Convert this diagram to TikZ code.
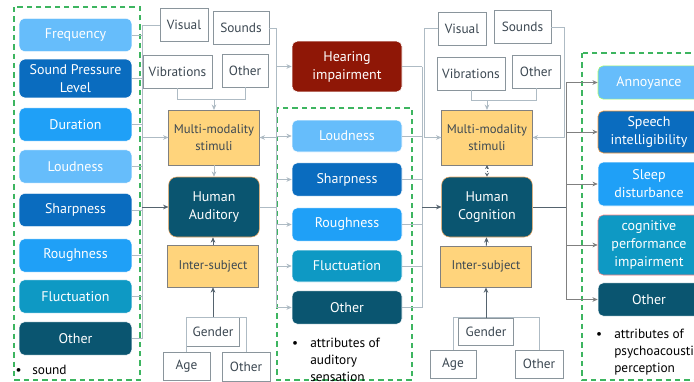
\documentclass[tikz,border=0pt]{standalone}
\usepackage{fontspec}
\setmainfont{PT Sans}
\usetikzlibrary{positioning,arrows.meta}

\definecolor{lblue}{HTML}{66BDFB}
\definecolor{dblue}{HTML}{0A6CBF}
\definecolor{mblue}{HTML}{1FA0F7}
\definecolor{tealc}{HTML}{0E99C4}
\definecolor{dteal}{HTML}{0A5570}
\definecolor{hred}{HTML}{8F1706}
\definecolor{ystim}{HTML}{FFD47C}
\definecolor{dgreen}{HTML}{3DB560}
\definecolor{lline}{HTML}{AEBBC4}
\definecolor{dline}{HTML}{55636E}
\definecolor{gtext}{HTML}{3C4852}
\definecolor{cuebd}{HTML}{8A959C}

\begin{document}
\begin{tikzpicture}[x=0.75pt, y=-0.75pt]

% Styles
\tikzset{
    attr/.style={rectangle, rounded corners=4pt, draw=white, fill=#1, text=white, minimum width=84.5pt,
        minimum height=25pt, inner sep=1pt, align=center, font=\fontsize{10.5}{13.5}\selectfont},
    cue/.style={rectangle, draw=cuebd, fill=white, text=gtext, inner sep=0pt, minimum height=25pt,
        font=\fontsize{10}{12}\selectfont},
    stim/.style={rectangle, draw=gray, fill=ystim, text=gtext, minimum width=68pt, minimum height=41pt,
        align=center, inner sep=1pt, font=\fontsize{9.5}{13}\selectfont},
    hub/.style={rectangle, rounded corners=6pt, draw=orange!60!brown!70, fill=dteal, text=white,
        minimum width=68pt, minimum height=45pt, align=center, font=\fontsize{10.5}{13.5}\selectfont},
    frame/.style={draw=dgreen, thick, dash pattern=on 4pt off 3pt},
    note/.style={anchor=north west, align=left, inner sep=0pt, text=black, font=\fontsize{10}{12.75}\selectfont},
    conn/.style={draw=lline, line width=0.6pt, -{Stealth[length=4pt,width=3.5pt]}},
    line/.style={draw=lline, line width=0.6pt},
    darkconn/.style={draw=dline, line width=0.7pt, -{Stealth[length=4pt,width=3.5pt]}}
}

\useasboundingbox (0,0) rectangle (694,382);

% Dashed groups
\draw[frame] (14,7) rectangle (140,380);
\draw[frame] (277,108) rectangle (412,380);
\draw[frame] (582,53) rectangle (720,380);

% Sound attributes
\node[attr=lblue] (freq) at (75.5,35) {Frequency};
\node[attr=dblue, minimum height=29pt] (spl) at (75.5,78.5) {Sound Pressure\\Level};
\node[attr=mblue] (dur) at (75.5,124.5) {Duration};
\node[attr=lblue] (loud1) at (75.5,166.5) {Loudness};
\node[attr=dblue] (sharp1) at (75.5,210) {Sharpness};
\node[attr=mblue] (rough1) at (75.5,255.5) {Roughness};
\node[attr=tealc] (fluct1) at (75.5,296.5) {Fluctuation};
\node[attr=dteal] (oth1) at (75.5,338.5) {Other};
\node[note] (snote) at (32,365) {\makebox[0pt][r]{\textbullet\hspace{8pt}}sound};

% First stage
\node[cue, minimum width=36pt] (vis1) at (184,25) {Visual};
\node[cue, minimum width=42pt] (snd1) at (241,28) {Sounds};
\node[cue, minimum width=52pt] (vib1) at (177.5,71.5) {Vibrations};
\node[cue, minimum width=34.5pt] (otc1) at (245,70.5) {Other};
\node[stim] (mm1) at (214,137.5) {Multi-modality\\stimuli};
\node[hub] (haud) at (214,207) {Human\\Auditory};
\node[stim, minimum height=31.5pt] (is1) at (213,266) {Inter-subject};
\node[cue, minimum width=40pt, minimum height=21.5pt] (gen1) at (213,331.5) {Gender};
\node[cue, minimum width=35pt, minimum height=21pt] (age1) at (186.5,366) {Age};
\node[cue, minimum width=36pt, minimum height=22pt] (oth1c) at (246,367) {Other};

% Auditory sensation
\node[attr=hred, minimum width=82.5pt, minimum height=38pt] (hear) at (347,66.5) {Hearing\\impairment};
\node[attr=lblue, minimum width=82.5pt, minimum height=24pt] (loud2) at (347,136) {Loudness};
\node[attr=dblue, minimum width=82.5pt] (sharp2) at (347,179.5) {Sharpness};
\node[attr=mblue, minimum width=82.5pt] (rough2) at (347,224.5) {Roughness};
\node[attr=tealc, minimum width=82.5pt, minimum height=24pt] (fluct2) at (347,266) {Fluctuation};
\node[attr=dteal, minimum width=82.5pt] (oth2) at (347,307.5) {Other};
\node[note] (anote) at (310,338) {\makebox[0pt][r]{\textbullet\hspace{9pt}}attributes of\\auditory\\sensation};

% Second stage
\node[cue, minimum width=36pt] (vis2) at (462,28.5) {Visual};
\node[cue, minimum width=43pt] (snd2) at (522.5,27) {Sounds};
\node[cue, minimum width=51pt] (vib2) at (471,73.5) {Vibrations};
\node[cue, minimum width=36pt] (otc2) at (536,71.5) {Other};
\node[stim] (mm2) at (487,137.5) {Multi-modality\\stimuli};
\node[hub] (hcog) at (487,207) {Human\\Cognition};
\node[stim, minimum height=31pt] (is2) at (486,266.5) {Inter-subject};
\node[cue, minimum width=41pt, minimum height=20.5pt] (gen2) at (486,331.5) {Gender};
\node[cue, minimum width=34.5pt, minimum height=21pt] (age2) at (453,364) {Age};
\node[cue, minimum width=36pt, minimum height=21pt] (oth2c) at (539,364) {Other};

% Psychoacoustic perception
\node[attr=lblue, draw=green!40!lime!60, minimum width=76.5pt] (anno) at (649,82.5) {Annoyance};
\node[attr=dblue, draw=orange!80, minimum width=76.5pt, minimum height=31.5pt] (speech) at (649,132) {Speech\\intelligibility};
\node[attr=mblue, minimum width=76.5pt, minimum height=33pt] (sleep) at (649,184) {Sleep\\disturbance};
\node[attr=tealc, draw=red!50, minimum width=76.5pt, minimum height=45pt] (cogn) at (649,245) {cognitive\\performance\\impairment};
\node[attr=dteal, minimum width=76.5pt] (oth3) at (649,299.5) {Other};
\node[note] (pnote) at (614,329) {\makebox[0pt][r]{\textbullet\hspace{9pt}}attributes of\\psychoacoustic\\perception};

% Buses
\coordinate (bus1) at (142,207);
\coordinate (bus2) at (276,207);
\coordinate (bus3) at (422,207);
\coordinate (bus4) at (566,207);
\coordinate (mj1) at (214,99);
\coordinate (mj2) at (487,100);

% Arrows, first stage
\foreach \b in {freq,spl,dur,loud1,sharp1,rough1,fluct1,oth1} {
    \draw[line] (\b.east) -- (\b.east -| bus1);
}
\draw[line] (freq.east -| bus1) -- (oth1.east -| bus1);
\draw[darkconn] (bus1) -- (haud.west);
\draw[conn] (vis1.west) -- (vis1.west -| bus1) |- (mm1.west);
\draw[conn] (snd1.east) -- (snd1.east -| bus2) |- (mm1.east);
\draw[line] (vib1.south) |- (mj1);
\draw[line] (otc1.south) |- (mj1);
\draw[conn] (mj1) -- (mm1.north);
\draw[conn] (mm1) -- (haud);
\draw[darkconn] (is1.north) -- (is1.north |- haud.south);
\draw[line] (age1.north) |- (gen1.north);
\draw[line] (oth1c.north) |- (gen1.north);
\draw[darkconn] (gen1.north) -- (is1.south);

% Arrows, auditory sensation
\draw[line] (haud.east) -- (bus2);
\draw[line] (hear.west -| bus2) -- (oth2.west -| bus2);
\foreach \b in {hear,loud2,sharp2,rough2,fluct2,oth2} {
    \draw[conn] (\b.west -| bus2) -- (\b.west);
    \draw[line] (\b.east) -- (\b.east -| bus3);
}
\draw[line] (hear.east -| bus3) -- (oth2.east -| bus3);
\draw[darkconn] (bus3) -- (hcog.west);

% Arrows, second stage
\draw[conn] (vis2.west) -- ++(-13,0) |- (mm2.west);
\draw[conn] (snd2.east) -- ++(13,0) |- (mm2.east);
\draw[line] (vib2.south) |- (mj2);
\draw[line] (otc2.south) |- (mj2);
\draw[conn] (mj2) -- (mm2.north);
\draw[darkconn, dotted, {Stealth[length=3pt,width=3pt]}-{Stealth[length=3pt,width=3pt]}] (mm2) -- (hcog);
\draw[darkconn] (is2) -- (hcog);
\draw[line] (age2.north) |- (gen2.north);
\draw[line] (oth2c.north) |- (gen2.north);
\draw[darkconn] (gen2.north) -- (is2.south);

% Arrows, perception
\draw[darkconn, -] (hcog.east) -- (bus4);
\draw[line, draw=gray] (anno.west -| bus4) -- (oth3.west -| bus4);
\foreach \b in {anno,speech,sleep,cogn,oth3} {
    \draw[conn, draw=gray] (\b.west -| bus4) -- (\b.west);
}

\end{tikzpicture}
\end{document}
